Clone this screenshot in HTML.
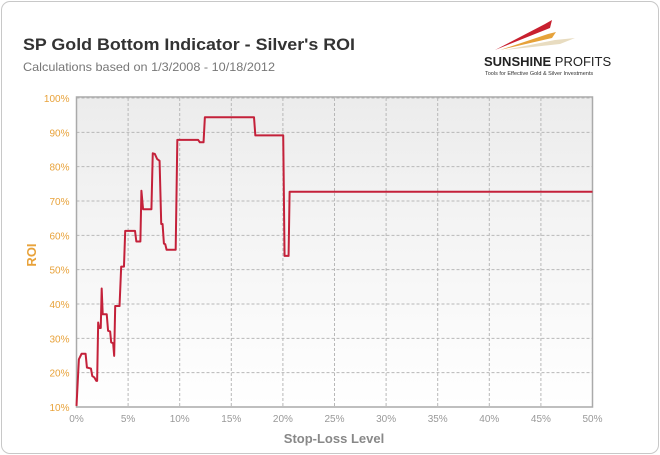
<!DOCTYPE html>
<html><head><meta charset="utf-8"><style>
body{margin:0;background:#fff;width:660px;height:455px;overflow:hidden;font-family:"Liberation Sans",sans-serif}
#card{position:absolute;left:1px;top:1px;width:656px;height:451px;border:1px solid #c8c8c8;border-radius:9px;background:#fff}
</style></head><body>
<div id="card"></div>
<svg id="svg" width="660" height="455" style="position:absolute;left:0;top:0">
<defs><linearGradient id="bg" x1="0" y1="0" x2="0" y2="1"><stop offset="0" stop-color="#ececec"/><stop offset="1" stop-color="#ffffff"/></linearGradient></defs>
<text x="23" y="50" font-size="17" font-weight="bold" fill="#333" textLength="332" lengthAdjust="spacingAndGlyphs">SP Gold Bottom Indicator - Silver's ROI</text>
<text x="23" y="71" font-size="12" fill="#777" textLength="252" lengthAdjust="spacingAndGlyphs">Calculations based on 1/3/2008  -  10/18/2012</text>
<g>
<polygon points="495,50 545,24 552,20 550,28" fill="#c8202f"/>
<polygon points="500,50 548,34 556,32 552,38" fill="#e6a23a"/>
<polygon points="505,50 555,40 575,38 560,44" fill="#e8dcc0"/>
<text x="484" y="66" font-size="13" font-weight="bold" fill="#222">SUNSHINE <tspan font-weight="normal">PROFITS</tspan></text>
<text x="485" y="75" font-size="5.5" fill="#333">Tools for Effective Gold &amp; Silver Investments</text>
</g>
<g id="plot"></g>
<text x="36" y="255" font-size="13" font-weight="bold" fill="#e8a23a" transform="rotate(-90 36 255)" text-anchor="middle">ROI</text>
<text x="334" y="443" font-size="13" font-weight="bold" fill="#888" text-anchor="middle">Stop-Loss Level</text>
</svg>
<script>
const xTicks=[0,5,10,15,20,25,30,35,40,45,50];
const yTicks=[10,20,30,40,50,60,70,80,90,100];
const stopLoss=[0,0.23,0.49,0.88,1.01,1.4,1.53,1.73,1.92,2.0,2.1,2.2,2.35,2.44,2.54,2.93,3.06,3.26,3.36,3.55,3.65,3.75,4.17,4.33,4.6,4.72,5.67,5.8,6.19,6.29,6.45,7.26,7.39,7.59,7.82,8.05,8.21,8.34,8.47,8.6,8.73,9.61,9.77,11.79,11.95,12.31,12.44,17.2,17.33,20.03,20.16,20.55,20.65,50];
const roi=[10.3,23.9,25.5,25.5,21.5,21.2,19,18.6,17.6,17.6,34.6,33,33,44.5,37,37,32.2,32,28.8,28.6,24.9,39.4,39.4,50.9,50.9,61.3,61.3,58.2,58.2,73,67.6,67.6,83.9,83.7,82.2,81.7,63.3,63.3,57.6,57.4,55.8,55.8,87.8,87.8,87.1,87.1,94.4,94.4,89.1,89.1,54,54,72.7,72.7];
const X0=76.5,X1=592.5,Y0=407,Y1=98;
const sx=v=>X0+(v-0)/50*(X1-X0);
const sy=v=>Y0-(v-10)/90*(Y0-Y1);
const NS="http://www.w3.org/2000/svg";
const g=document.getElementById('plot');
function mk(t,a){const e=document.createElementNS(NS,t);for(const k in a)e.setAttribute(k,a[k]);g.appendChild(e);return e;}
const bg=mk('rect',{x:X0,y:Y1,width:X1-X0,height:Y0-Y1,fill:'url(#bg)'});


yTicks.forEach(v=>{
 if(v>10){const l=mk('line',{x1:X0,x2:X1,y1:sy(v),y2:sy(v),stroke:'#b8b8b8','stroke-dasharray':'3,2'});
 
 }
 const t=mk('text',{x:X0-7,y:sy(v)+4,'font-size':10,fill:'#e8a23a','text-anchor':'end'});t.textContent=v+'%';
 
 
});
xTicks.forEach(v=>{
 if(v>0){const l=mk('line',{x1:sx(v),x2:sx(v),y1:Y1,y2:Y0,stroke:'#b8b8b8','stroke-dasharray':'3,2'});
 
 }
 const t=mk('text',{x:sx(v),y:Y0+15,'font-size':10,fill:'#999','text-anchor':'middle'});t.textContent=v+'%';
 
 
});
const ax=mk('path',{d:`M${X0},${Y1-1}H${X1}V${Y0}H${X0}Z`,fill:'none',stroke:'#aaa','stroke-width':1.5});


const ln=mk('polyline',{points:stopLoss.map((v,i)=>sx(v)+','+sy(roi[i])).join(' '),fill:'none',stroke:'#c4213a','stroke-width':2,'stroke-linejoin':'round'});


</script>
</body></html>
